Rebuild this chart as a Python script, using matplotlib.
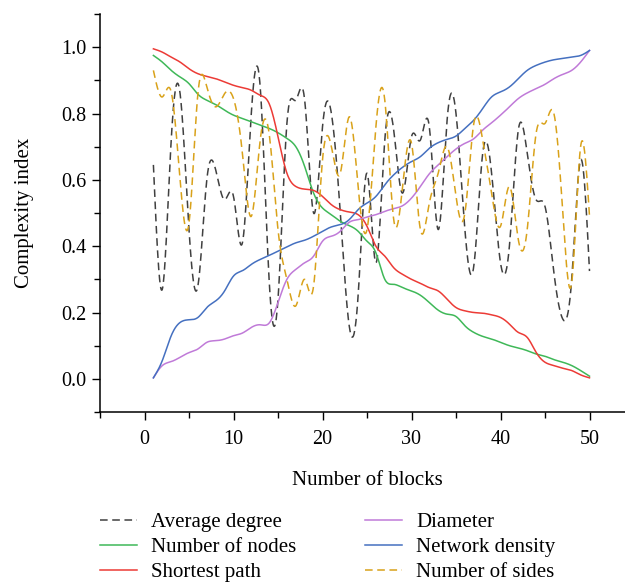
import numpy as np
import matplotlib
matplotlib.use("Agg")
import matplotlib.pyplot as plt
from matplotlib.ticker import MultipleLocator

plt.rcParams['font.family'] = ['Liberation Serif', 'DejaVu Serif']

blocks = np.arange(1, 51)

average_degree = [0.645, 0.27, 0.72, 0.86, 0.45, 0.28, 0.60, 0.63, 0.54, 0.55,
                  0.41, 0.80, 0.88, 0.30, 0.24, 0.77, 0.84, 0.84, 0.50, 0.76,
                  0.80, 0.50, 0.16, 0.25, 0.62, 0.35, 0.72, 0.75, 0.56, 0.73,
                  0.72, 0.76, 0.45, 0.78, 0.80, 0.45, 0.34, 0.68, 0.62, 0.35,
                  0.40, 0.75, 0.68, 0.54, 0.52, 0.32, 0.18, 0.30, 0.66, 0.325]
number_of_nodes = [0.975, 0.955, 0.93, 0.91, 0.89, 0.858, 0.84, 0.827, 0.81, 0.795,
                   0.785, 0.775, 0.765, 0.755, 0.742, 0.725, 0.70, 0.64, 0.56, 0.515,
                   0.495, 0.475, 0.462, 0.445, 0.415, 0.38, 0.30, 0.285, 0.275, 0.265,
                   0.252, 0.23, 0.207, 0.195, 0.188, 0.16, 0.14, 0.128, 0.12, 0.11,
                   0.10, 0.093, 0.085, 0.075, 0.068, 0.058, 0.05, 0.04, 0.025, 0.008]
shortest_path = [0.995, 0.985, 0.97, 0.955, 0.935, 0.92, 0.912, 0.905, 0.895, 0.885,
                 0.878, 0.87, 0.855, 0.83, 0.73, 0.62, 0.58, 0.572, 0.568, 0.55,
                 0.525, 0.51, 0.503, 0.495, 0.46, 0.40, 0.37, 0.335, 0.315, 0.30,
                 0.288, 0.275, 0.265, 0.24, 0.215, 0.205, 0.20, 0.198, 0.193, 0.185,
                 0.165, 0.14, 0.125, 0.08, 0.05, 0.04, 0.032, 0.025, 0.012, 0.003]
diameter = [0.003, 0.04, 0.052, 0.065, 0.079, 0.09, 0.11, 0.115, 0.12, 0.13,
            0.138, 0.155, 0.163, 0.168, 0.23, 0.30, 0.33, 0.35, 0.37, 0.415,
            0.43, 0.445, 0.472, 0.48, 0.488, 0.495, 0.505, 0.513, 0.522, 0.545,
            0.58, 0.618, 0.645, 0.67, 0.693, 0.71, 0.724, 0.75, 0.772, 0.795,
            0.82, 0.845, 0.862, 0.875, 0.888, 0.905, 0.918, 0.93, 0.955, 0.99]
network_density = [0.003, 0.055, 0.13, 0.17, 0.178, 0.185, 0.215, 0.235, 0.265, 0.31,
                   0.326, 0.345, 0.36, 0.372, 0.385, 0.398, 0.41, 0.418, 0.43, 0.445,
                   0.458, 0.465, 0.48, 0.51, 0.53, 0.55, 0.585, 0.615, 0.638, 0.655,
                   0.67, 0.695, 0.712, 0.722, 0.732, 0.755, 0.78, 0.815, 0.85, 0.865,
                   0.88, 0.905, 0.93, 0.945, 0.955, 0.962, 0.966, 0.97, 0.975, 0.99]
number_of_sides = [0.93, 0.85, 0.865, 0.60, 0.47, 0.86, 0.88, 0.82, 0.86, 0.845,
                   0.68, 0.49, 0.72, 0.74, 0.45, 0.30, 0.22, 0.30, 0.28, 0.66,
                   0.70, 0.62, 0.79, 0.58, 0.45, 0.76, 0.84, 0.48, 0.58, 0.71,
                   0.45, 0.53, 0.62, 0.70, 0.55, 0.50, 0.77, 0.72, 0.56, 0.46,
                   0.58, 0.42, 0.45, 0.74, 0.77, 0.80, 0.50, 0.29, 0.70, 0.49]


def smooth(x, y, n=20):
    # natural cubic spline through the points, for drawing only
    x = np.asarray(x, float)
    y = np.asarray(y, float)
    k = len(x)
    h = np.diff(x)
    A = np.zeros((k, k))
    r = np.zeros(k)
    A[0, 0] = A[-1, -1] = 1
    for i in range(1, k - 1):
        A[i, i - 1] = h[i - 1]
        A[i, i] = 2 * (h[i - 1] + h[i])
        A[i, i + 1] = h[i]
        r[i] = 3 * ((y[i + 1] - y[i]) / h[i] - (y[i] - y[i - 1]) / h[i - 1])
    c = np.linalg.solve(A, r)
    xs, ys = [], []
    for i in range(k - 1):
        b = (y[i + 1] - y[i]) / h[i] - h[i] * (2 * c[i] + c[i + 1]) / 3
        d = (c[i + 1] - c[i]) / (3 * h[i])
        t = np.linspace(0, h[i], n, endpoint=False)
        xs.append(x[i] + t)
        ys.append(y[i] + b * t + c[i] * t ** 2 + d * t ** 3)
    xs.append([x[-1]])
    ys.append([y[-1]])
    return np.concatenate(xs), np.concatenate(ys)


fig = plt.figure(figsize=(6.25, 5.84), dpi=100)
ax = fig.add_axes([100 / 625, 1 - 412 / 584, 534 / 625, 398 / 584])

series = [
    ("Average degree", average_degree, "#404040", (0, (5, 3))),
    ("Number of nodes", number_of_nodes, "#3fb858", "-"),
    ("Shortest path", shortest_path, "#ec3b36", "-"),
    ("Diameter", diameter, "#c07ad8", "-"),
    ("Network density", network_density, "#4570c0", "-"),
    ("Number of sides", number_of_sides, "#d9a21a", (0, (5, 3))),
]
for name, vals, col, ls in series:
    sx, sy = smooth(blocks, vals)
    ax.plot(sx, sy, color=col, ls=ls, lw=1.1, label=name)

ax.set_xlim(-5, 55)
ax.set_ylim(-0.1, 1.1)
ax.xaxis.set_major_locator(MultipleLocator(10))
ax.xaxis.set_minor_locator(MultipleLocator(5))
ax.yaxis.set_minor_locator(MultipleLocator(0.1))
ax.set_yticks([0, 0.2, 0.4, 0.6, 0.8, 1.0])
ax.set_yticklabels(["0.0", "0.2", "0.4", "0.6", "0.8", "1.0"])
ax.tick_params(which="both", direction="out", labelsize=14.5, width=1)
ax.tick_params(which="major", length=6)
ax.tick_params(which="minor", length=4)
ax.tick_params(axis="x", pad=7)
for s in ["top", "right"]:
    ax.spines[s].set_visible(False)
for s in ["left", "bottom"]:
    ax.spines[s].set_linewidth(1.1)

ax.set_xlabel("Number of blocks", fontsize=15, labelpad=16)
ax.set_ylabel("Complexity index", fontsize=15, labelpad=20)

fig.legend(loc="upper left", bbox_to_anchor=(90 / 625, 1 - 502 / 584), ncol=2,
           frameon=False, fontsize=15, handlelength=1.75, handletextpad=0.7,
           columnspacing=3.3, labelspacing=0.27, borderpad=0)

fig.savefig("out.png", dpi=100)
